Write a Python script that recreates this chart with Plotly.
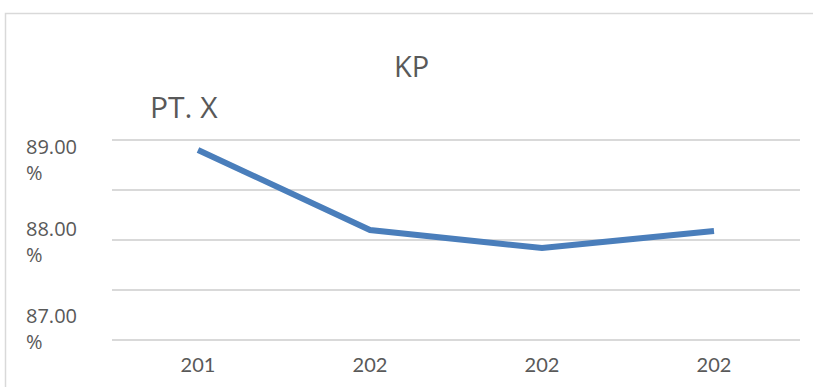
import plotly.graph_objects as go

# Series data
periods = ["201", "202", "202", "202"]
kp_values = [88.90, 88.10, 87.92, 88.09]

# Y-axis labels (value, text)
y_label_values = [89.0, 88.0, 87.0]
y_label_texts = ["89.00<br>%", "88.00<br>%", "87.00<br>%"]

title_text = "KP"
subtitle_text = "PT. X"

W, H = 813, 387
GRID = "#d9d9d9"
TEXT = "#595959"
LINE = "#4a7ebb"


def px_x(v):
    return v / W


def px_y(v):
    return 1 - v / H


x_idx = list(range(len(periods)))

fig = go.Figure()
fig.add_trace(go.Scatter(
    x=x_idx,
    y=kp_values,
    mode="lines",
    line=dict(color=LINE, width=6),
    hoverinfo="skip",
    showlegend=False,
))

fig.update_layout(
    width=W,
    height=H,
    margin=dict(l=0, r=0, t=0, b=0),
    paper_bgcolor="white",
    plot_bgcolor="white",
    xaxis=dict(
        domain=[px_x(112), px_x(800)],
        range=[-0.5, len(periods) - 0.5],
        tickmode="array",
        tickvals=x_idx,
        ticktext=periods,
        showgrid=False,
        zeroline=False,
        showline=False,
        ticks="",
        ticklabelstandoff=6,
        tickfont=dict(family="Lato", size=20, color=TEXT),
        fixedrange=True,
    ),
    yaxis=dict(
        domain=[px_y(345), px_y(135)],
        range=[86.95, 89.05],
        dtick=0.5,
        tick0=87.0,
        showgrid=True,
        gridcolor=GRID,
        gridwidth=1.5,
        zeroline=False,
        showline=False,
        showticklabels=False,
        ticks="",
        fixedrange=True,
    ),
)

# Outer chart frame
fig.add_shape(
    type="rect", xref="paper", yref="paper",
    x0=px_x(5.5), x1=1.2, y0=-0.2, y1=px_y(13.5),
    line=dict(color=GRID, width=1.5),
    fillcolor="rgba(0,0,0,0)",
    layer="below",
)

# Y-axis value labels, wrapped onto two lines
y_shifts = [-20, -2, 12]
for val, txt, sh in zip(y_label_values, y_label_texts, y_shifts):
    fig.add_annotation(
        x=px_x(24), xref="paper", xanchor="left",
        y=val, yref="y", yanchor="middle", yshift=sh,
        text=txt, showarrow=False, align="left",
        font=dict(family="Open Sans", size=20, color=TEXT),
    )

# Chart title and subtitle
fig.add_annotation(
    x=px_x(411), xref="paper", xanchor="center",
    y=px_y(65), yref="paper", yanchor="middle",
    text=title_text, showarrow=False,
    font=dict(family="Open Sans", size=29, color=TEXT),
)
fig.add_annotation(
    x=px_x(148), xref="paper", xanchor="left",
    y=px_y(106), yref="paper", yanchor="middle",
    text=subtitle_text, showarrow=False,
    font=dict(family="Open Sans", size=30, color=TEXT),
)

fig.write_html("out.html")
